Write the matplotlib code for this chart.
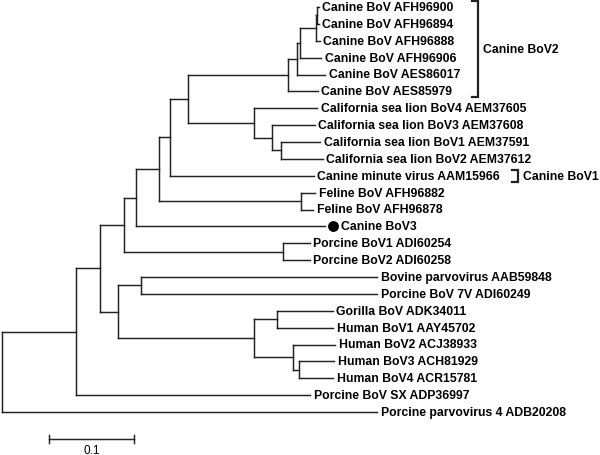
import matplotlib
matplotlib.use("Agg")
import matplotlib.pyplot as plt

# ---- Data: tree topology with branch lengths (substitutions/site) ----
canine_bov2 = ("(((((Canine BoV AFH96900:0.0026,Canine BoV AFH96894:0.0026):0.0006,"
               "Canine BoV AFH96888:0.0044):0.0189,Canine BoV AFH96906:0.0248):0.0035,"
               "Canine BoV AES86017:0.0335):0.0106,Canine BoV AES85979:0.0351)")
sea_lion = ("(California sea lion BoV4 AEM37605:0.0745,(California sea lion BoV3 AEM37608:0.0505,"
            "(California sea lion BoV1 AEM37591:0.0465,California sea lion BoV2 AEM37612:0.0493):0.0106):0.0213)")
feline = "(Feline BoV AFH96882:0.0165,Feline BoV AFH96878:0.0145)"
porcine12 = "(Porcine BoV1 ADI60254:0.0319,Porcine BoV2 ADI60258:0.0319)"
bovine = "(Bovine parvovirus AAB59848:0.2790,Porcine BoV 7V ADI60249:0.2790)"
human = ("((Gorilla BoV ADK34011:0.0658,Human BoV1 AAY45702:0.0662):0.0272,"
         "(Human BoV2 ACJ38933:0.0496,(Human BoV3 ACH81929:0.0414,Human BoV4 ACR15781:0.0402):0.0071):0.0461)")

NEWICK = (f"(((((((({canine_bov2}:0.1182,{sea_lion}:0.0780):0.0213,"
          f"Canine minute virus AAM15966:0.1696):0.0130,{feline}:0.1678):0.0272,"
          f"Canine BoV3:0.2234):0.0142,{porcine12}:0.1873):0.0284,"
          f"({bovine}:0.0272,{human}:0.1608):0.0213):0.0284,"
          f"Porcine BoV SX ADP36997:0.2766):0.0875,Porcine parvovirus 4 ADB20208:0.4433);")

HIGHLIGHT = "Canine BoV3"
SCALE_LEN = 0.1
SCALE_LABEL = "0.1"
GROUPS = [("Canine BoV2", "Canine BoV AFH96900", "Canine BoV AES85979"),
          ("Canine BoV1", "Canine minute virus AAM15966", "Canine minute virus AAM15966")]


def parse(s):
    pos = 0

    def node():
        nonlocal pos
        children = []
        name = ""
        if s[pos] == "(":
            pos += 1
            children.append(node())
            while s[pos] == ",":
                pos += 1
                children.append(node())
            pos += 1  # ')'
        else:
            start = pos
            while s[pos] not in ":,);":
                pos += 1
            name = s[start:pos].strip()
        bl = 0.0
        if pos < len(s) and s[pos] == ":":
            pos += 1
            start = pos
            while s[pos] not in ",);":
                pos += 1
            bl = float(s[start:pos])
        return {"name": name, "children": children, "bl": bl}

    return node()


tree = parse(NEWICK)
leaves = []


def layout(n, x0):
    n["x"] = x0 + n["bl"]
    if not n["children"]:
        n["y"] = len(leaves)
        leaves.append(n)
    else:
        for c in n["children"]:
            layout(c, n["x"])
        n["y"] = (n["children"][0]["y"] + n["children"][-1]["y"]) / 2.0


tree["bl"] = 0.0
layout(tree, 0.0)

PX = 846.0   # pixels per unit branch length
fig = plt.figure(figsize=(6, 4.56), dpi=100)
ax = fig.add_axes([0, 0, 1, 1])
ax.set_xlim(-2 / PX, 598 / PX)
ax.set_ylim((456 - 8) / 16.875, -8 / 16.875)
ax.axis("off")

LC = "#222222"
LW = 1.05


def draw(n, px):
    ax.plot([px, n["x"]], [n["y"], n["y"]], color=LC, lw=LW, solid_capstyle="projecting")
    if n["children"]:
        ax.plot([n["x"], n["x"]], [n["children"][0]["y"], n["children"][-1]["y"]],
                color=LC, lw=LW, solid_capstyle="projecting")
        for c in n["children"]:
            draw(c, n["x"])


draw(tree, tree["x"])

font = dict(family=["Liberation Sans", "DejaVu Sans"], fontweight="bold", fontsize=8.8)
for lf in leaves:
    if lf["name"] == HIGHLIGHT:
        ax.plot(lf["x"] + 8 / PX, lf["y"], "o", color="black", ms=6.8)
        ax.text(lf["x"] + 16 / PX, lf["y"], lf["name"], va="center", ha="left", **font)
    else:
        ax.text(lf["x"] + 3.5 / PX, lf["y"], lf["name"], va="center", ha="left", **font)

# group brackets
name_to_leaf = {lf["name"]: lf for lf in leaves}
bracket_x = {"Canine BoV2": 478, "Canine BoV1": 518}
for label, first, last in GROUPS:
    y0 = name_to_leaf[first]["y"] - 0.36
    y1 = name_to_leaf[last]["y"] + 0.36
    bx = (bracket_x[label] - 2) / PX
    tick = 6 / PX
    ax.plot([bx - tick, bx, bx, bx - tick], [y0, y0, y1, y1], color=LC, lw=1.6,
            solid_joinstyle="miter")
    ax.text(bx + 5 / PX, (y0 + y1) / 2, label, va="center", ha="left", **font)

# scale bar
sx0 = (49 - 2) / PX
sy = (440 - 8) / 16.875
ax.plot([sx0, sx0 + SCALE_LEN], [sy, sy], color=LC, lw=LW)
for xx in (sx0, sx0 + SCALE_LEN):
    ax.plot([xx, xx], [sy - 0.22, sy + 0.22], color=LC, lw=LW)
ax.text(sx0 + SCALE_LEN / 2, (454 - 8) / 16.875, SCALE_LABEL, ha="center", va="baseline",
        family=["Liberation Sans", "DejaVu Sans"], fontsize=8.5)

fig.savefig("out.png", dpi=100)
